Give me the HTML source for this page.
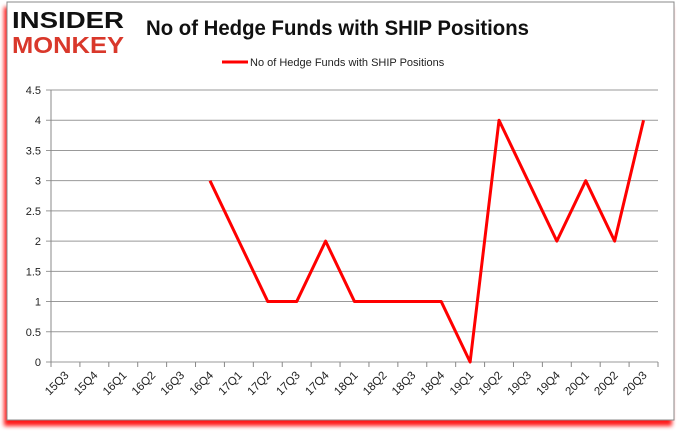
<!DOCTYPE html>
<html><head><meta charset="utf-8"><style>
body{margin:0;background:#fff;width:680px;height:433px;overflow:hidden;font-family:"Liberation Sans",sans-serif}
</style></head><body>
<svg width="680" height="433">
<defs><filter id="sh" x="-5%" y="-5%" width="110%" height="110%"><feGaussianBlur stdDeviation="2"/></filter></defs>
<rect x="4" y="7" width="668" height="419" fill="#f00" opacity="0.9" filter="url(#sh)"/>
<rect x="7" y="2" width="667" height="418" fill="#fff" stroke="#888"/>
<g font-family="Liberation Sans" font-weight="bold">
<text x="12" y="28" font-size="23" fill="#111" textLength="112" lengthAdjust="spacingAndGlyphs">INSIDER</text>
<text x="12" y="53" font-size="23" fill="#d9382b" textLength="112" lengthAdjust="spacingAndGlyphs">MONKEY</text>
</g>
<text x="146" y="35" font-size="21" font-weight="bold" fill="#111" textLength="383" lengthAdjust="spacingAndGlyphs">No of Hedge Funds with SHIP Positions</text>
<g>
<line x1="222" y1="62" x2="248" y2="62" stroke="#f00" stroke-width="3"/>
<text x="250" y="66" font-size="11" fill="#222">No of Hedge Funds with SHIP Positions</text>
</g>
<g id="grid"></g><g id="axes"></g><g id="series"></g>
</svg>
<script>
const categories=["15Q3","15Q4","16Q1","16Q2","16Q3","16Q4","17Q1","17Q2","17Q3","17Q4","18Q1","18Q2","18Q3","18Q4","19Q1","19Q2","19Q3","19Q4","20Q1","20Q2","20Q3"];
const values=[null,null,null,null,null,3,2,1,1,2,1,1,1,1,0,4,3,2,3,2,4];
const yTicks=[0,0.5,1,1.5,2,2.5,3,3.5,4,4.5];
const yTickLabels=["0","0.5","1","1.5","2","2.5","3","3.5","4","4.5"];
const NS="http://www.w3.org/2000/svg";
const L=51,R=658,T=90,B=362,yMax=4.5;
const step=(R-L)/categories.length;
const xs=i=>L+step*(i+0.5);
const ys=v=>B-(v/yMax)*(B-T);
function mk(tag,attrs,parent){const e=document.createElementNS(NS,tag);for(const k in attrs)e.setAttribute(k,attrs[k]);document.getElementById(parent).appendChild(e);return e;}
yTicks.forEach((v,i)=>{
 const y=ys(v);
 const g=mk("line",{x1:L-5,x2:R,y1:y,y2:y,stroke:"#999","stroke-width":1},"grid");
 
 
 const t=mk("text",{x:L-10,y:y+4,"text-anchor":"end","font-size":11,fill:"#222"},"axes");
 t.textContent=yTickLabels[i];
 
 
});
const ax=mk("line",{x1:L,x2:L,y1:T,y2:B,stroke:"#888"},"axes");


for(let i=0;i<=categories.length;i++){
 const x=L+step*i;
 const tk=mk("line",{x1:x,x2:x,y1:B,y2:B+5,stroke:"#888"},"axes");
 
 
}
categories.forEach((c,i)=>{
 const x=xs(i)+4,y=B+14;
 const t=mk("text",{x:x,y:y,"text-anchor":"end","font-size":11.5,fill:"#222",transform:`rotate(-45 ${x} ${y})`},"axes");
 t.textContent=c;
 
 
});
let d="";values.forEach((v,i)=>{if(v===null)return;d+=(d?"L":"M")+xs(i)+","+ys(v);});
const p=mk("path",{d:d,fill:"none",stroke:"#f00","stroke-width":3,"stroke-linejoin":"round"},"series");


</script>
</body></html>
